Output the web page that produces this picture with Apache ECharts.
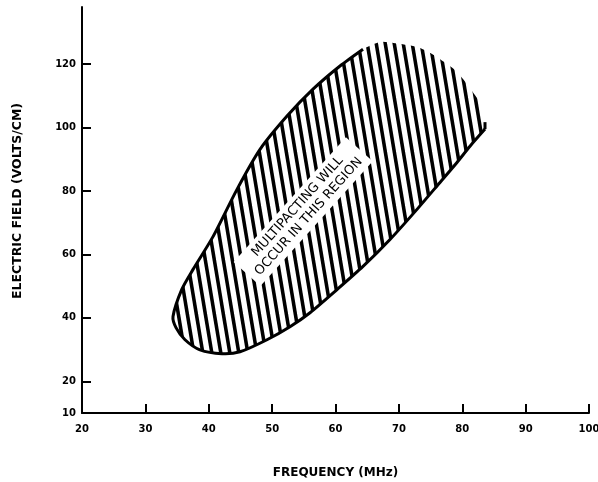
<!DOCTYPE html>
<html lang="en">
  <head>
    <meta charset="UTF-8" />
    <title>Multipacting region</title>
    <script src="https://cdn.jsdelivr.net/npm/echarts@6.0.0/dist/echarts.min.js"></script>
    <style>
      html, body { margin: 0; padding: 0; background: #fff; }
    </style>
  </head>

  <body>
    <div id="main" style="width: 598px; height: 482px"></div>
    <script type="text/javascript">
      // boundary of the hatched region, [MHz, V/cm]
      const upperEdge = [
        [34.36, 40.4], [35.73, 48.9], [37.5, 55.2], [40.67, 65.6], [44.46, 80.5],
        [48.09, 93.1], [52.35, 103.6], [56.45, 112.1], [60.71, 119.4], [64.34, 124.7],
      ];
      // ragged top where the hatching just stops (no outline)
      const hatchTop = [
        [67.02, 127.0], [69.39, 126.6], [71.44, 126.0], [73.33, 125.1], [75.23, 123.2],
        [76.96, 120.9], [78.7, 118.4], [80.12, 115.3], [81.54, 111.5], [82.8, 107.7],
        [83.59, 101.7],
      ];
      const lowerEdge = [
        [83.59, 99.5], [81.22, 94.1], [79.17, 89.0], [76.49, 82.7], [72.86, 74.2],
        [68.6, 64.7], [64.34, 56.2], [60.24, 48.9], [55.98, 41.6], [52.82, 37.2],
        [49.19, 33.1], [44.93, 29.3], [42.09, 28.7], [38.62, 29.9], [36.25, 33.1],
        [34.83, 36.9],
      ];
      const labelPoint = [54.9, 73.5];

      const xTicks = [30, 40, 50, 60, 70, 80, 90, 100];
      const xLabels = [20, 30, 40, 50, 60, 70, 80, 90, 100];
      const yTicks = [20, 40, 60, 80, 100, 120];
      const yLabels = [10, 20, 40, 60, 80, 100, 120];

      // slanted stripe tile for the hatching
      function stripeTile() {
        const w = 9, h = 54, sw = 3.6;
        const c = document.createElement("canvas");
        c.width = w;
        c.height = h;
        const ctx = c.getContext("2d");
        ctx.fillStyle = "#fff";
        ctx.fillRect(0, 0, w, h);
        ctx.fillStyle = "#000";
        for (let k = -2; k <= 2; k++) {
          const x0 = k * w;
          ctx.beginPath();
          ctx.moveTo(x0 - sw / 2, 0);
          ctx.lineTo(x0 + sw / 2, 0);
          ctx.lineTo(x0 + sw / 2 + w, h);
          ctx.lineTo(x0 - sw / 2 + w, h);
          ctx.closePath();
          ctx.fill();
        }
        return c;
      }
      const tile = stripeTile();

      const tickFont = {
        fontFamily: "DejaVu Sans",
        fontWeight: "bold",
        fontSize: 10,
        color: "#000",
      };

      let myChart = echarts.init(document.getElementById("main"));

      let options = {
        animation: false,
        backgroundColor: "#fff",
        grid: { left: 82, right: 9, top: 7, bottom: 69, outerBoundsMode: "none" },
        xAxis: {
          type: "value",
          min: 20,
          max: 100,
          interval: 10,
          name: "FREQUENCY (MHz)",
          nameLocation: "middle",
          nameGap: 54,
          nameTextStyle: {
            fontFamily: "DejaVu Sans",
            fontWeight: "bold",
            fontSize: 12,
            color: "#000",
          },
          axisLine: { lineStyle: { color: "#000", width: 2 } },
          axisTick: {
            inside: true,
            length: 9,
            customValues: xTicks,
            lineStyle: { color: "#000", width: 2 },
          },
          axisLabel: Object.assign({ margin: 11, customValues: xLabels }, tickFont),
          splitLine: { show: false },
        },
        yAxis: {
          type: "value",
          min: 10,
          max: 138,
          interval: 10,
          name: "ELECTRIC FIELD (VOLTS/CM)",
          nameLocation: "middle",
          nameGap: 58,
          nameRotate: 90,
          nameTextStyle: {
            fontFamily: "DejaVu Sans",
            fontWeight: "bold",
            fontSize: 12.5,
            color: "#000",
            padding: [0, 0, 0, 18],
          },
          axisLine: { lineStyle: { color: "#000", width: 2 } },
          axisTick: {
            inside: true,
            length: 9,
            customValues: yTicks,
            lineStyle: { color: "#000", width: 2 },
          },
          axisLabel: Object.assign({ margin: 6, customValues: yLabels }, tickFont),
          splitLine: { show: false },
        },
        series: [
          {
            type: "custom",
            silent: true,
            data: [0],
            renderItem: function (params, api) {
              const outline = upperEdge.concat(hatchTop, lowerEdge);
              const pts = outline.map((p) => api.coord(p));
              // solid outline: upper edge (top down to tip) then lower edge (tip to right end)
              const solid = upperEdge
                .slice()
                .reverse()
                .concat(lowerEdge.slice().reverse())
                .map((p) => api.coord(p));
              const cap = [lowerEdge[0], hatchTop[hatchTop.length - 1]].map((p) => api.coord(p));
              return {
                type: "group",
                children: [
                  {
                    type: "polygon",
                    shape: { points: pts, smooth: 0.25 },
                    style: { fill: { image: tile, repeat: "repeat" }, stroke: null },
                  },
                  {
                    type: "polyline",
                    shape: { points: solid, smooth: 0.25 },
                    style: { fill: null, stroke: "#000", lineWidth: 3 },
                  },
                  {
                    type: "polyline",
                    shape: { points: cap },
                    style: { fill: null, stroke: "#000", lineWidth: 3 },
                  },
                ],
              };
            },
          },
          {
            type: "scatter",
            silent: true,
            symbolSize: 0,
            z: 10,
            itemStyle: { opacity: 1 },
            emphasis: { disabled: true },
            data: [labelPoint],
            label: {
              show: true,
              position: "inside",
              rotate: 48,
              formatter: "MULTIPACTING WILL\nOCCUR IN THIS REGION",
              fontFamily: "DejaVu Sans",
              fontSize: 13,
              lineHeight: 15,
              color: "#000",
              opacity: 1,
              align: "center",
              backgroundColor: "#fff",
              padding: [3, 7],
            },
          },
        ],
      };
      myChart.setOption(options);
    </script>
  </body>
</html>
